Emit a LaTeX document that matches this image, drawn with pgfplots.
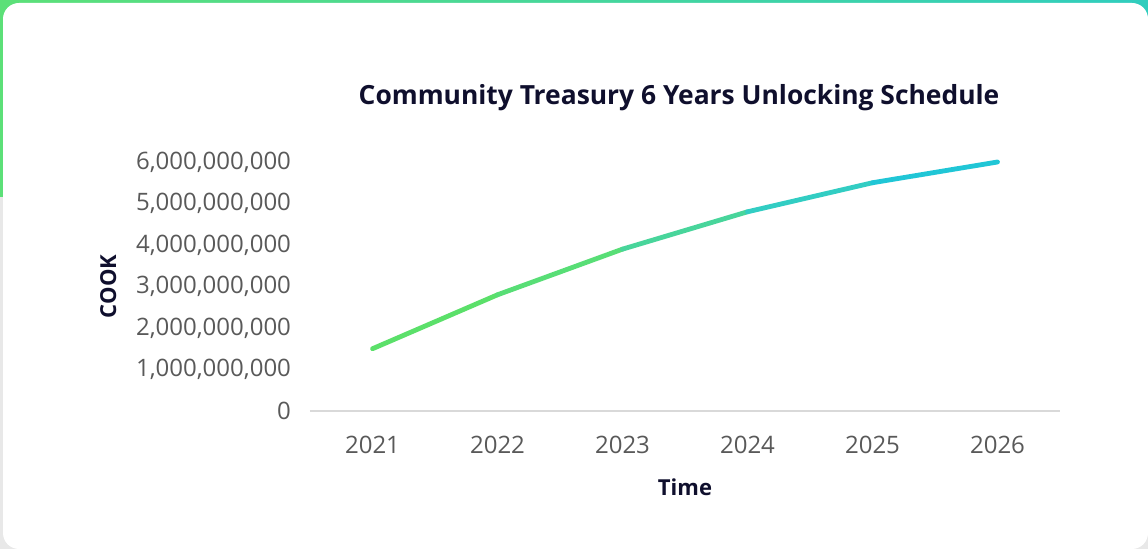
\documentclass[border=0pt]{standalone}
\usepackage{pgfplots}
\pgfplotsset{compat=1.18}
\usepackage{fontspec}
\setmainfont{Open Sans}
\definecolor{navy}{RGB}{15,15,45}
\definecolor{ticktxt}{RGB}{89,89,89}
\definecolor{gridgray}{RGB}{217,217,217}
\begin{document}
\begin{tikzpicture}
% card background (1px = 0.5pt)
\useasboundingbox (0,0) rectangle (574pt,274.5pt);
\fill[gray!18] (0,0) rectangle (574pt,274.5pt);
\shade[left color={rgb,255:red,92;green,224;blue,120}, right color={rgb,255:red,48;green,205;blue,190}]
  (0,176pt) rectangle (574pt,274.5pt);
\fill[white, rounded corners=8pt] (1.5pt,0pt) rectangle (574pt,273pt);

\begin{axis}[
    at={(155pt,69pt)}, anchor=south west,
    scale only axis,
    width=375pt, height=124.5pt,
    xmin=-0.5, xmax=5.5,
    ymin=0, ymax=6000000000,
    clip=false,
    axis x line*=bottom,
    axis y line*=left,
    x axis line style={gridgray, line width=1pt, -},
    y axis line style={draw=none},
    xtick={0,1,2,3,4,5},
    xticklabels={2021,2022,2023,2024,2025,2026},
    major tick length=0pt,
    ytick={0,1000000000,2000000000,3000000000,4000000000,5000000000,6000000000},
    scaled y ticks=false,
    /pgf/number format/fixed,
    /pgf/number format/1000 sep={,},
    /pgf/number format/assume math mode=true,
    ticklabel style={font=\fontsize{12}{14}\selectfont, text=ticktxt},
    yticklabel style={xshift=-6pt},
    xticklabel style={yshift=-9pt},
    title={Community Treasury 6 Years Unlocking Schedule},
    title style={at={(axis description cs:0.492,1.209)}, anchor=center,
                 font=\fontsize{13.2}{15}\selectfont\bfseries, text=navy},
    xlabel={Time},
    x label style={at={(axis description cs:0.5,-0.305)}, anchor=center,
                   font=\fontsize{11}{13}\selectfont\bfseries, text=navy},
    ylabel={COOK},
    y label style={at={(axis description cs:-0.269,0.5)}, anchor=center,
                   font=\fontsize{11}{13}\selectfont\bfseries, text=navy},
    colormap={greenteal}{
        rgb255(0cm)=(92,224,100) rgb255(1cm)=(91,224,106) rgb255(3cm)=(88,222,118)
        rgb255(5cm)=(72,213,155) rgb255(7cm)=(50,205,195) rgb255(9cm)=(32,198,214)
        rgb255(10cm)=(30,197,216)},
    point meta min=0, point meta max=5,
]
\addplot[mesh, point meta=x, line width=2.4pt, line cap=round] coordinates {
    (0,1500000000) (1,2800000000) (2,3900000000) (3,4800000000) (4,5500000000) (5,6000000000)
};
\end{axis}
\end{tikzpicture}
\end{document}
